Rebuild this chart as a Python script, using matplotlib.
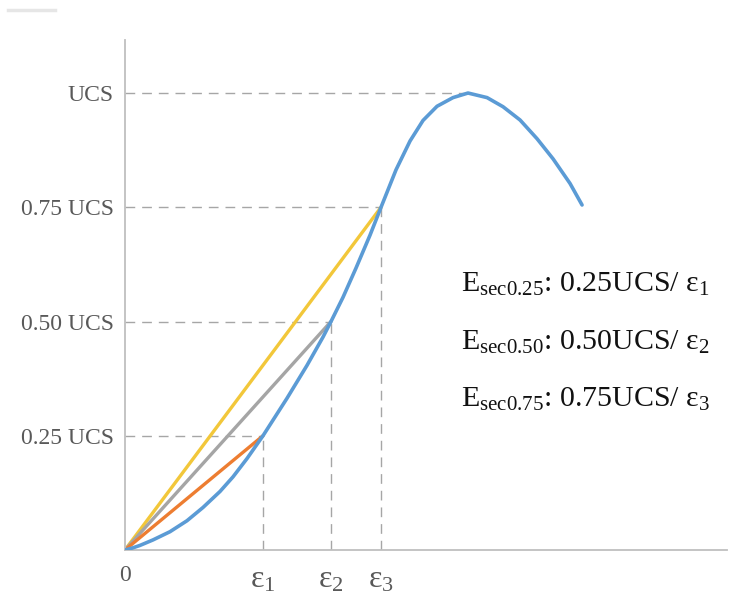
import matplotlib
matplotlib.use("Agg")
import matplotlib.pyplot as plt
from matplotlib.lines import Line2D

# stress-strain curve (strain in arbitrary units, stress as fraction of UCS)
strain = [0.0, 0.07, 0.15, 0.28, 0.45, 0.62, 0.78, 0.95, 1.08, 1.22, 1.38, 1.62,
          1.82, 1.98, 2.06, 2.18, 2.31, 2.45, 2.56, 2.71, 2.85, 2.98, 3.12, 3.28,
          3.43, 3.62, 3.78, 3.95, 4.12, 4.28, 4.45, 4.57]
stress = [0.0, 0.004, 0.010, 0.022, 0.040, 0.064, 0.093, 0.128, 0.16, 0.20, 0.25, 0.332,
          0.404, 0.466, 0.50, 0.553, 0.617, 0.689, 0.75, 0.832, 0.895, 0.94, 0.971, 0.99,
          1.0, 0.99, 0.97, 0.941, 0.90, 0.856, 0.802, 0.755]

# secant points
levels = [0.25, 0.50, 0.75]
eps = [1.38, 2.06, 2.56]
peak_strain = 3.43
secant_colors = ["#ed7d31", "#a5a5a5", "#f2c73a"]

ytick_vals = [0.25, 0.50, 0.75, 1.0]
ytick_labels = ["0.25 UCS", "0.50 UCS", "0.75 UCS", "UCS"]
xtick_vals = [0.0] + eps
xtick_labels = ["0", r"$\mathregular{ε_1}$", r"$\mathregular{ε_2}$", r"$\mathregular{ε_3}$"]

formulas = [r"$\mathregular{E_{sec0.25}}$: 0.25UCS/ $\mathregular{ε_1}$",
            r"$\mathregular{E_{sec0.50}}$: 0.50UCS/ $\mathregular{ε_2}$",
            r"$\mathregular{E_{sec0.75}}$: 0.75UCS/ $\mathregular{ε_3}$"]

plt.rcParams["font.family"] = ["Liberation Serif", "DejaVu Serif"]

fig = plt.figure(figsize=(7.3, 6.01), dpi=100)
ax = fig.add_axes([0.1712, 0.0849, 0.8248, 0.8485])

grid_kw = dict(color="#a6a6a6", lw=1.0, dashes=(7, 5), zorder=1)
# guide lines to the axes
for lv, e in zip(levels, eps):
    ax.plot([0, e], [lv, lv], **grid_kw)
    ax.plot([e, e], [0, lv], **grid_kw)
ax.plot([0, peak_strain], [1.0, 1.0], **grid_kw)

# secant lines, widest first
for lv, e, c in sorted(zip(levels, eps, secant_colors), reverse=True):
    ax.plot([0, e], [0, lv], color=c, lw=2.4, solid_capstyle="round", zorder=2)

ax.plot(strain, stress, color="#5b9bd5", lw=2.6, solid_capstyle="round",
        solid_joinstyle="round", zorder=3)

ax.set_xlim(0, 6.02)
ax.set_ylim(0, 1.116)
ax.set_yticks(ytick_vals)
ax.set_yticklabels(ytick_labels)
ax.set_xticks(xtick_vals)
ax.set_xticklabels(xtick_labels)
ax.tick_params(axis="y", length=0, pad=8, labelsize=17, labelcolor="#595959")
ax.tick_params(axis="x", length=0, pad=11, labelsize=23, labelcolor="#595959")
ax.get_xticklabels()[0].set_fontsize(17)
for s in ["top", "right"]:
    ax.spines[s].set_visible(False)
for s in ["left", "bottom"]:
    ax.spines[s].set_color("#bfbfbf")
    ax.spines[s].set_linewidth(1.3)

for i, t in enumerate(formulas):
    ax.text(0.558, 0.506 - i * 0.113, t, transform=ax.transAxes, fontsize=21.5,
            color="#111111", ha="left", va="baseline")

fig.add_artist(Line2D([0.011, 0.075], [0.984, 0.984], color="#e6e6e6", lw=2.5))

fig.savefig("out.png", dpi=100)
